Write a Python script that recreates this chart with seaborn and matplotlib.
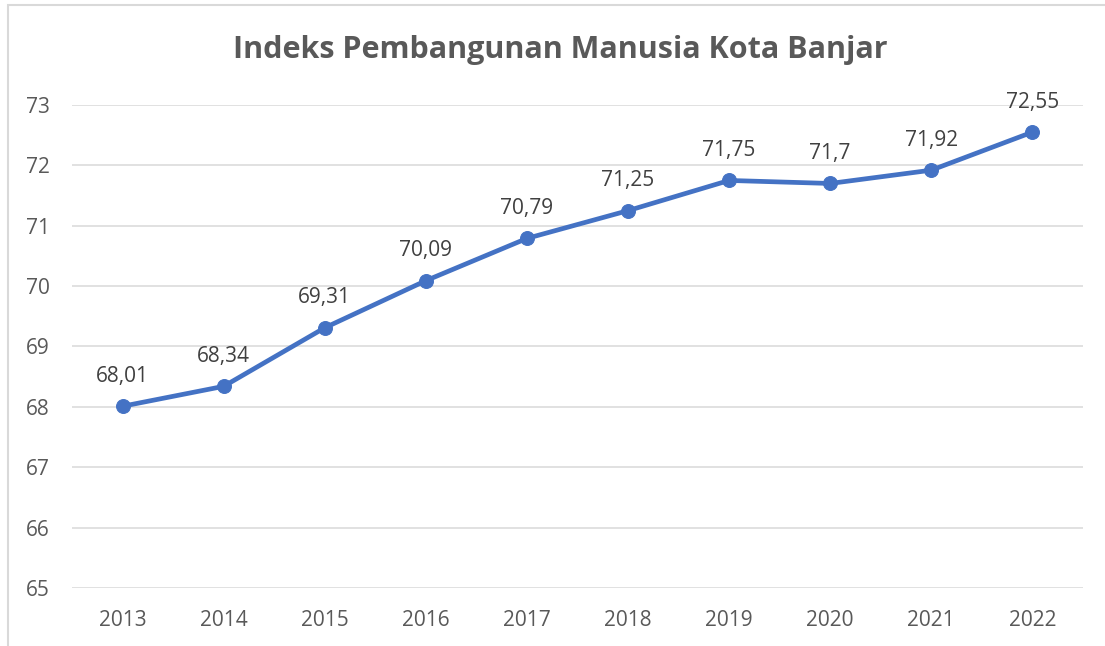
import matplotlib.pyplot as plt
import matplotlib.patches as patches
import pandas as pd
import seaborn as sns

# Data
years = ['2013', '2014', '2015', '2016', '2017', '2018', '2019', '2020', '2021', '2022']
ipm = [68.01, 68.34, 69.31, 70.09, 70.79, 71.25, 71.75, 71.70, 71.92, 72.55]
labels = ['68,01', '68,34', '69,31', '70,09', '70,79', '71,25', '71,75', '71,7', '71,92', '72,55']
yticks = [65, 66, 67, 68, 69, 70, 71, 72, 73]

sns.set_style('white')
plt.rcParams['font.family'] = ['Open Sans', 'DejaVu Sans']

df = pd.DataFrame({'year': years, 'ipm': ipm})
df['pos'] = range(len(years))

fig = plt.figure(figsize=(11.05, 6.46), dpi=100)
ax = fig.add_axes([0.0652, 0.0898, 0.9148, 0.7477])

sns.lineplot(data=df, x='pos', y='ipm', ax=ax, color='#4472C4', linewidth=3.4,
             marker='o', markersize=10, markeredgecolor='#4472C4')

# Data labels above each point
for i, (v, t) in enumerate(zip(ipm, labels)):
    ax.annotate(t, (i, v), xytext=(0, 14), textcoords='offset points',
                ha='center', va='bottom', fontsize=15, color='#404040')

ax.set_xlim(-0.5, len(years) - 0.5)
ax.set_ylim(65, 73)
ax.set_xticks(range(len(years)))
ax.set_xticklabels(years)
ax.set_yticks(yticks)
ax.tick_params(axis='both', labelsize=15, labelcolor='#595959', length=0)
ax.tick_params(axis='y', pad=16)
ax.tick_params(axis='x', pad=16)
ax.yaxis.grid(True, color='#D9D9D9', linewidth=1.1)
ax.xaxis.grid(False)
for s in ax.spines.values():
    s.set_visible(False)
ax.set_xlabel('')
ax.set_ylabel('')

fig.text(0.507, 0.922, 'Indeks Pembangunan Manusia Kota Banjar', ha='center',
         va='center', fontsize=22, fontweight='bold', color='#595959')

# Light chart border (top and left visible)
fig.patches.append(patches.Rectangle((8 / 1105, -0.1), 1.2, 1.1 - 5 / 646,
                                     transform=fig.transFigure, fill=False,
                                     edgecolor='#D9D9D9', linewidth=1.5))

fig.savefig('out.png', dpi=100)
